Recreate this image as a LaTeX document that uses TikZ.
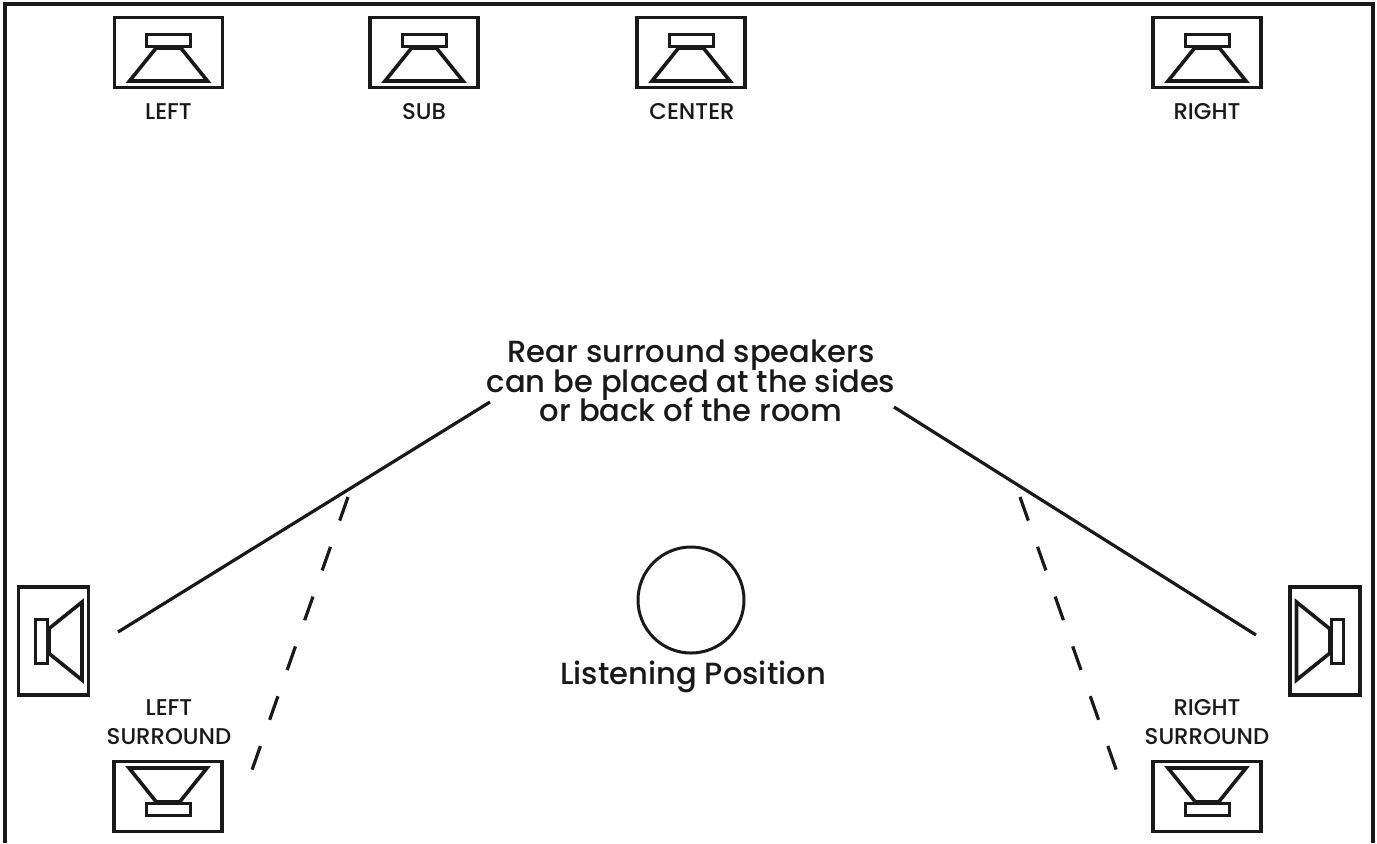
\documentclass[tikz,border=0pt]{standalone}
\usepackage{fontspec}
\setmainfont{Poppins Medium}
\usetikzlibrary{calc}
\lineskiplimit=-10pt

\begin{document}
\begin{tikzpicture}[
    x=0.5pt,y=-0.5pt,
    wall/.style={line width=1.8pt,draw=black!90},
    lead/.style={line width=1.6pt,draw=black!90},
    leadgap/.style={line width=1.6pt,draw=black!90,dash pattern=on 12.5pt off 13.9pt},
    tag/.style={align=center,inner sep=0pt,text=black!90,font=\fontsize{11.4}{14.5}\selectfont},
    note/.style={align=center,inner sep=0pt,text=black!90,font=\fontsize{15.3}{14.6}\selectfont},
    speaker/.pic={
      \draw[line width=1.6pt,black!90] (-54,-35) rectangle (54,35);
      \draw[line width=1.5pt,black!90] (-22,-18.5) rectangle (22,-6.5);
      \fill[black!90] (-12,-7) rectangle (12,-3);
      \draw[line width=1.8pt,black!90,line join=miter] (-12,-5) -- (-39,28.5) -- (39,28.5) -- (12,-5);
    }
  ]
    \useasboundingbox (0,0) rectangle (1377,843);

    \coordinate (wallsw) at (5,843);
    \coordinate (wallnw) at (5,4);
    \coordinate (wallne) at (1373,4);
    \coordinate (wallse) at (1373,843);
    \draw[wall] (wallsw) -- (wallnw) -- (wallne) -- (wallse);

    \pic (fl) at (168.5,52.5) {speaker};
    \pic (sub) at (424,52.5) {speaker};
    \pic (fc) at (691,52.5) {speaker};
    \pic (fr) at (1207,52.5) {speaker};
    \pic (ls) at (168,796.5) [yscale=-1] {speaker};
    \pic (rs) at (1207,796.5) [yscale=-1] {speaker};
    \pic (sl) at (53.5,641) [rotate=90] {speaker};
    \pic (sr) at (1325,641) [rotate=-90] {speaker};

    \node[tag] (flname) at (168.5,112) {LEFT};
    \node[tag] (subname) at (424,112) {SUB};
    \node[tag] (fcname) at (692,112) {CENTER};
    \node[tag] (frname) at (1207,112) {RIGHT};
    \node[tag] (lsname) at (169,722.5) {LEFT\\SURROUND};
    \node[tag] (rsname) at (1207,722.5) {RIGHT\\SURROUND};

    \node[note] (rearnote) at (691,381) {Rear surround speakers\\can be placed at the sides\\or back of the room};
    \node[circle,draw=black!90,line width=1.5pt,minimum size=53pt,inner sep=0pt] (listener) at (691,600) {};
    \node[note] (listenname) at (693,677) {Listening Position};

    \coordinate (leftfar) at (490,402);
    \coordinate (leftnear) at (118,632);
    \coordinate (rightfar) at (894,407);
    \coordinate (rightnear) at (1256,635);
    \draw[lead] (leftfar) -- (leftnear);
    \draw[lead] (rightfar) -- (rightnear);

    \coordinate (lsfar) at (348,497);
    \coordinate (lsnear) at (252,770);
    \coordinate (rsfar) at (1020,497);
    \coordinate (rsnear) at (1117,772);
    \draw[leadgap] (lsfar) -- (lsnear);
    \draw[leadgap] (rsfar) -- (rsnear);
  \end{tikzpicture}
\end{document}
